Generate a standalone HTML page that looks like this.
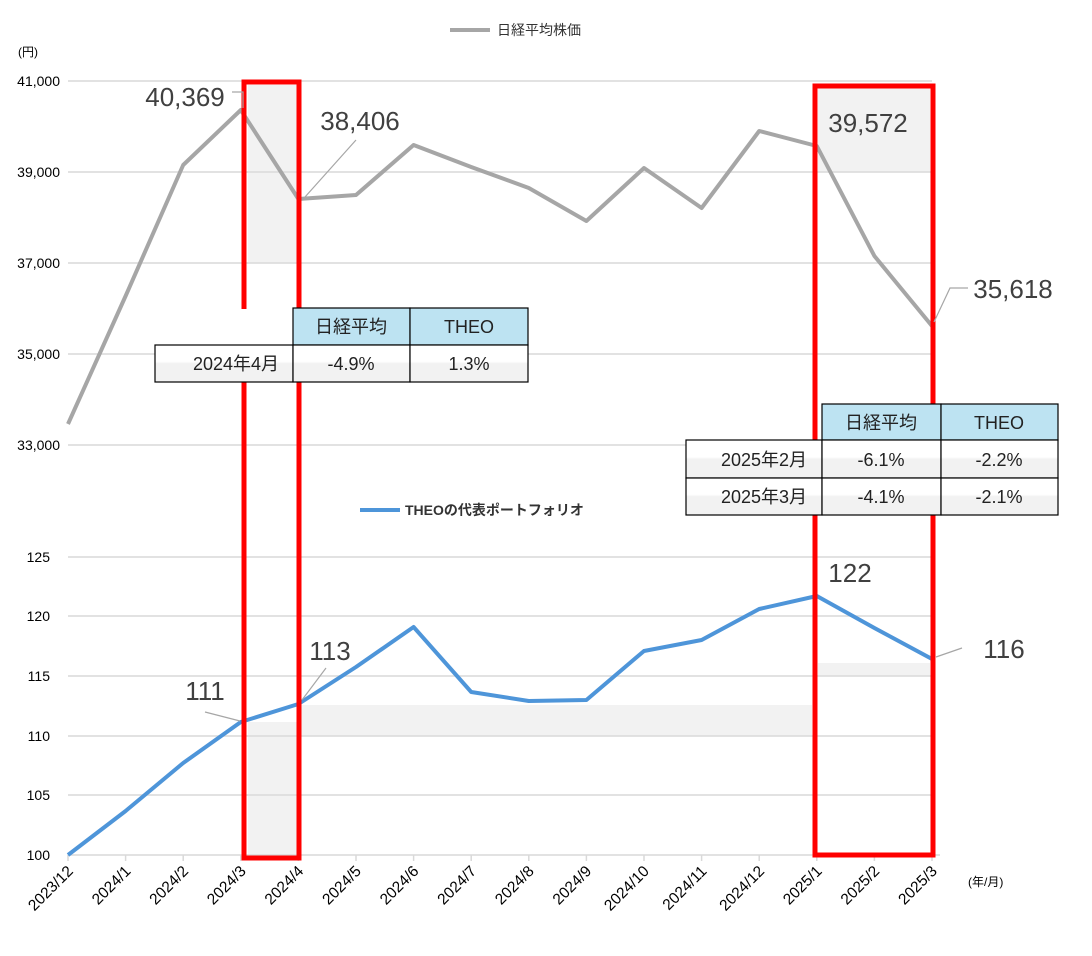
<!DOCTYPE html>
<html><head><meta charset="utf-8"><style>body{margin:0;background:#fff}svg{display:block;font-family:"Liberation Sans","Noto Sans CJK JP",sans-serif}</style></head><body>
<svg width="1092" height="956" viewBox="0 0 1092 956">
<defs><linearGradient id="g" x1="0" y1="0" x2="0" y2="1"><stop offset="0.45" stop-color="#fff"/><stop offset="0.5" stop-color="#f2f2f2"/><stop offset="1" stop-color="#f2f2f2"/></linearGradient></defs>
<g fill="#f2f2f2">
<rect x="248" y="85" width="50" height="178"/>
<rect x="818" y="88" width="112" height="84"/>
<rect x="248" y="722" width="50" height="133"/>
<rect x="300" y="705" width="512" height="31"/>
<rect x="818" y="663" width="112" height="13"/>
</g>
<g stroke="#d9d9d9" stroke-width="1.5">
<line x1="68" y1="81" x2="932" y2="81"/><line x1="68" y1="172" x2="932" y2="172"/><line x1="68" y1="263" x2="932" y2="263"/><line x1="68" y1="354" x2="932" y2="354"/><line x1="68" y1="445" x2="932" y2="445"/>
<line x1="68" y1="557" x2="932" y2="557"/><line x1="68" y1="616" x2="932" y2="616"/><line x1="68" y1="676" x2="932" y2="676"/><line x1="68" y1="736" x2="932" y2="736"/><line x1="68" y1="795" x2="932" y2="795"/><line x1="68" y1="855" x2="940" y2="855"/>
</g>
<g stroke="#d9d9d9" stroke-width="1.5">
<line x1="68" y1="855" x2="68" y2="861"/><line x1="125.6" y1="855" x2="125.6" y2="861"/><line x1="183.2" y1="855" x2="183.2" y2="861"/><line x1="240.8" y1="855" x2="240.8" y2="861"/><line x1="298.4" y1="855" x2="298.4" y2="861"/><line x1="356" y1="855" x2="356" y2="861"/><line x1="413.6" y1="855" x2="413.6" y2="861"/><line x1="471.2" y1="855" x2="471.2" y2="861"/><line x1="528.8" y1="855" x2="528.8" y2="861"/><line x1="586.4" y1="855" x2="586.4" y2="861"/><line x1="644" y1="855" x2="644" y2="861"/><line x1="701.6" y1="855" x2="701.6" y2="861"/><line x1="759.2" y1="855" x2="759.2" y2="861"/><line x1="816.8" y1="855" x2="816.8" y2="861"/><line x1="874.4" y1="855" x2="874.4" y2="861"/><line x1="932" y1="855" x2="932" y2="861"/>
</g>
<g font-size="14" fill="#000" text-anchor="end">
<text x="60" y="86">41,000</text><text x="60" y="177">39,000</text><text x="60" y="268">37,000</text><text x="60" y="359">35,000</text><text x="60" y="450">33,000</text>
<text x="50" y="562">125</text><text x="50" y="621">120</text><text x="50" y="681">115</text><text x="50" y="741">110</text><text x="50" y="800">105</text><text x="50" y="860">100</text>
</g>
<text x="18" y="56" font-size="12">(円)</text>
<text x="968" y="886" font-size="12">(年/月)</text>
<g font-size="15.5" text-anchor="end">
<text transform="translate(74,872) rotate(-45)">2023/12</text>
<text transform="translate(131.6,872) rotate(-45)">2024/1</text>
<text transform="translate(189.2,872) rotate(-45)">2024/2</text>
<text transform="translate(246.8,872) rotate(-45)">2024/3</text>
<text transform="translate(304.4,872) rotate(-45)">2024/4</text>
<text transform="translate(362,872) rotate(-45)">2024/5</text>
<text transform="translate(419.6,872) rotate(-45)">2024/6</text>
<text transform="translate(477.2,872) rotate(-45)">2024/7</text>
<text transform="translate(534.8,872) rotate(-45)">2024/8</text>
<text transform="translate(592.4,872) rotate(-45)">2024/9</text>
<text transform="translate(650,872) rotate(-45)">2024/10</text>
<text transform="translate(707.6,872) rotate(-45)">2024/11</text>
<text transform="translate(765.2,872) rotate(-45)">2024/12</text>
<text transform="translate(822.8,872) rotate(-45)">2025/1</text>
<text transform="translate(880.4,872) rotate(-45)">2025/2</text>
<text transform="translate(938,872) rotate(-45)">2025/3</text>
</g>
<line x1="450" y1="30" x2="490" y2="30" stroke="#a6a6a6" stroke-width="4"/>
<text x="497" y="35" font-size="14" fill="#333">日経平均株価</text>
<line x1="360" y1="510" x2="400" y2="510" stroke="#4e95d9" stroke-width="4"/>
<text x="405" y="515" font-size="14" fill="#333" font-weight="bold">THEOの代表ポートフォリオ</text>
<polyline fill="none" stroke="#a6a6a6" stroke-width="4" stroke-linejoin="round" points="68,424 125.6,296 183.2,165 240.8,110 298.4,199 356,195 413.6,145 471.2,167 528.8,188 586.4,221 644,168 701.6,208 759.2,131 816.8,146 874.4,256 932,326"/>
<polyline fill="none" stroke="#4e95d9" stroke-width="4" stroke-linejoin="round" points="68,855 125.6,811 183.2,763 240.8,722 298.4,704 356,667 413.6,627 471.2,692 528.8,701 586.4,700 644,651 701.6,640 759.2,609 816.8,596 874.4,628 932,659"/>
<g fill="none" stroke="#ff0000" stroke-width="5">
<rect x="244" y="82" width="55" height="776"/>
<rect x="815" y="86" width="118" height="769"/>
</g>
<rect x="237" y="309" width="12" height="73" fill="#fff"/>
<g fill="none" stroke="#a6a6a6" stroke-width="1.2">
<polyline points="232,92 243,92 243,108"/>
<line x1="356" y1="140" x2="305" y2="197"/>
<polyline points="968,288 950,288 934,322"/>
<line x1="205" y1="712" x2="240" y2="721"/>
<line x1="326" y1="668" x2="302" y2="700"/>
<line x1="962" y1="648" x2="936" y2="657"/>
</g>
<g font-size="26" fill="#404040" text-anchor="middle">
<text x="185" y="106">40,369</text>
<text x="360" y="130">38,406</text>
<text x="868" y="132">39,572</text>
<text x="1013" y="298">35,618</text>
<text x="205" y="700">111</text>
<text x="330" y="660">113</text>
<text x="850" y="582">122</text>
<text x="1004" y="658">116</text>
</g>
<g stroke="#000" stroke-width="1.2">
<rect x="293" y="308" width="117" height="37" fill="#bde3f2"/><rect x="410" y="308" width="118" height="37" fill="#bde3f2"/>
<rect x="155" y="345" width="138" height="37" fill="url(#g)"/><rect x="293" y="345" width="117" height="37" fill="url(#g)"/><rect x="410" y="345" width="118" height="37" fill="url(#g)"/>
<rect x="822" y="404" width="119" height="36" fill="#bde3f2"/><rect x="941" y="404" width="117" height="36" fill="#bde3f2"/>
<rect x="686" y="440" width="136" height="38" fill="url(#g)"/><rect x="822" y="440" width="119" height="38" fill="url(#g)"/><rect x="941" y="440" width="117" height="38" fill="url(#g)"/>
<rect x="686" y="478" width="136" height="37" fill="url(#g)"/><rect x="822" y="478" width="119" height="37" fill="url(#g)"/><rect x="941" y="478" width="117" height="37" fill="url(#g)"/>
</g>
<g font-size="18" text-anchor="middle" fill="#222">
<text x="351" y="333">日経平均</text><text x="469" y="333">THEO</text>
<text x="236" y="370">2024年4月</text><text x="351" y="370">-4.9%</text><text x="469" y="370">1.3%</text>
<text x="881" y="429">日経平均</text><text x="999" y="429">THEO</text>
<text x="764" y="466">2025年2月</text><text x="881" y="466">-6.1%</text><text x="999" y="466">-2.2%</text>
<text x="764" y="503">2025年3月</text><text x="881" y="503">-4.1%</text><text x="999" y="503">-2.1%</text>
</g>
</svg>
</body></html>
